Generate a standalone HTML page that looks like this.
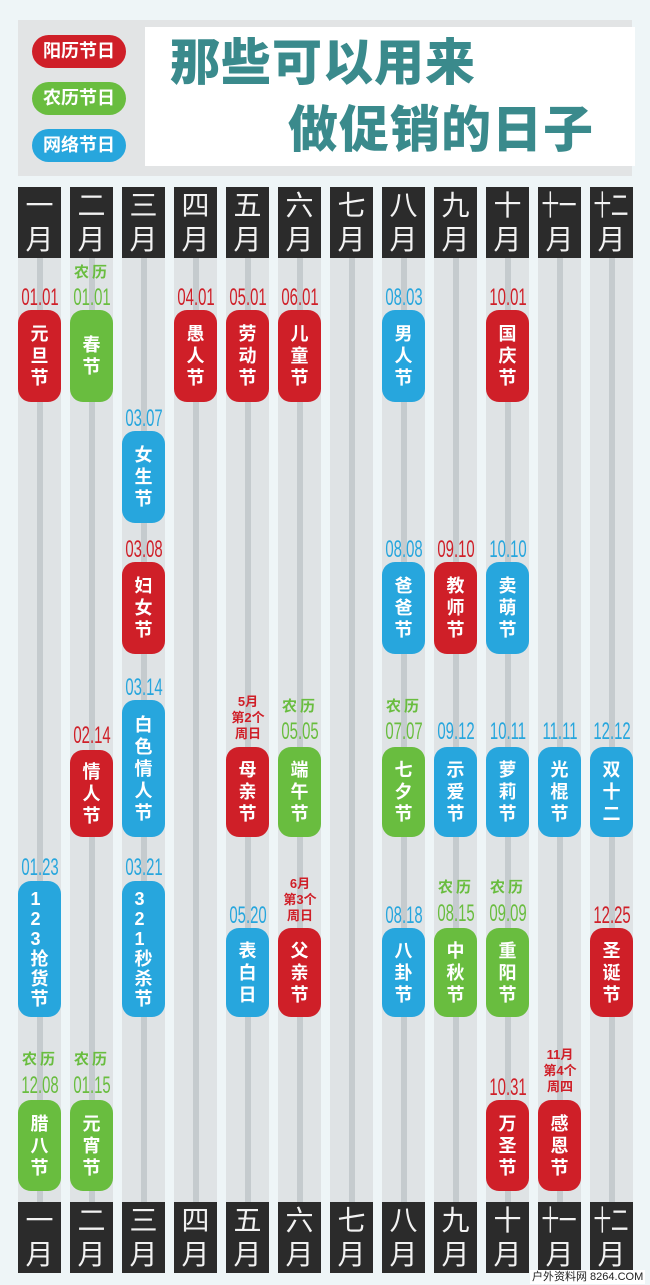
<!DOCTYPE html>
<html><head><meta charset="utf-8"><style>
*{margin:0;padding:0;box-sizing:border-box}
body{width:650px;height:1285px;background:#eef5f7;position:relative;overflow:hidden;font-family:"Liberation Sans","Noto Sans CJK SC",sans-serif}
.a{position:absolute}
.panel{left:18px;top:20px;width:614px;height:156px;background:#e2e4e5}
.tbox{left:145px;top:27px;width:490px;height:139px;background:#fff}
.t{color:#3a8a8c;font-weight:900;font-size:50px;letter-spacing:1px;white-space:nowrap;line-height:1}
.leg{left:32px;width:94px;height:33px;border-radius:17px;color:#fff;font-weight:bold;font-size:18px;text-align:center;line-height:33px}
.col{width:43px;top:258px;height:946px;background:#dfe3e5}
.col::after{content:"";position:absolute;left:19px;top:0;width:6px;height:100%;background:#c5cbce}
.hd{width:43px;height:71px;background:#2b2b2b;color:#f2f2f2;font-size:28px;line-height:34px;text-align:center;padding-top:2px;white-space:nowrap;overflow:hidden}
.hd span{display:inline-block;transform:scaleX(.62);margin:0 -12px}
.p{width:43px;border-radius:13px;color:#fff;font-weight:bold;font-size:18px;line-height:22px;display:flex;flex-direction:column;justify-content:center;align-items:center;z-index:2}
.r{background:#cf1f28}.g{background:#69bd3f}.b{background:#27a6dd}
.d{width:60px;margin-left:-8px;text-align:center;font-size:24px;line-height:24px;transform:scaleX(.62);z-index:2;font-family:"Liberation Sans Narrow","Liberation Sans",sans-serif}
.rc{color:#cf1f28}.gc{color:#69bd3f}.bc{color:#27a6dd}
.n{width:60px;margin-left:-8px;text-align:center;font-size:15px;font-weight:bold;line-height:16px;z-index:2;letter-spacing:3px}
.s{letter-spacing:0}
</style></head><body>
<div class="a panel"></div>
<div class="a tbox"></div>
<div class="a leg r" style="top:35px">阳历节日</div>
<div class="a leg g" style="top:82px">农历节日</div>
<div class="a leg b" style="top:129px">网络节日</div>
<div class="a t" style="left:170px;top:38px">那些可以用来</div>
<div class="a t" style="left:288px;top:105px">做促销的日子</div>

<div class="a col" style="left:18px"></div><div class="a col" style="left:70px"></div><div class="a col" style="left:122px"></div><div class="a col" style="left:174px"></div><div class="a col" style="left:226px"></div><div class="a col" style="left:278px"></div><div class="a col" style="left:330px"></div><div class="a col" style="left:382px"></div><div class="a col" style="left:434px"></div><div class="a col" style="left:486px"></div><div class="a col" style="left:538px"></div><div class="a col" style="left:590px"></div>

<div class="a hd" style="left:18px;top:187px">一<br>月</div><div class="a hd" style="left:70px;top:187px">二<br>月</div><div class="a hd" style="left:122px;top:187px">三<br>月</div><div class="a hd" style="left:174px;top:187px">四<br>月</div><div class="a hd" style="left:226px;top:187px">五<br>月</div><div class="a hd" style="left:278px;top:187px">六<br>月</div><div class="a hd" style="left:330px;top:187px">七<br>月</div><div class="a hd" style="left:382px;top:187px">八<br>月</div><div class="a hd" style="left:434px;top:187px">九<br>月</div><div class="a hd" style="left:486px;top:187px">十<br>月</div><div class="a hd" style="left:538px;top:187px"><span>十一</span><br>月</div><div class="a hd" style="left:590px;top:187px"><span>十二</span><br>月</div>

<div class="a hd" style="left:18px;top:1202px">一<br>月</div><div class="a hd" style="left:70px;top:1202px">二<br>月</div><div class="a hd" style="left:122px;top:1202px">三<br>月</div><div class="a hd" style="left:174px;top:1202px">四<br>月</div><div class="a hd" style="left:226px;top:1202px">五<br>月</div><div class="a hd" style="left:278px;top:1202px">六<br>月</div><div class="a hd" style="left:330px;top:1202px">七<br>月</div><div class="a hd" style="left:382px;top:1202px">八<br>月</div><div class="a hd" style="left:434px;top:1202px">九<br>月</div><div class="a hd" style="left:486px;top:1202px">十<br>月</div><div class="a hd" style="left:538px;top:1202px"><span>十一</span><br>月</div><div class="a hd" style="left:590px;top:1202px"><span>十二</span><br>月</div>

<!-- row 1 -->
<div class="a d rc" style="left:18px;top:286px">01.01</div><div class="a p r" style="left:18px;top:310px;height:92px">元<br>旦<br>节</div>
<div class="a n gc" style="left:70px;top:265px">农历</div><div class="a d gc" style="left:70px;top:286px">01.01</div><div class="a p g" style="left:70px;top:310px;height:92px">春<br>节</div>
<div class="a d rc" style="left:174px;top:286px">04.01</div><div class="a p r" style="left:174px;top:310px;height:92px">愚<br>人<br>节</div>
<div class="a d rc" style="left:226px;top:286px">05.01</div><div class="a p r" style="left:226px;top:310px;height:92px">劳<br>动<br>节</div>
<div class="a d rc" style="left:278px;top:286px">06.01</div><div class="a p r" style="left:278px;top:310px;height:92px">儿<br>童<br>节</div>
<div class="a d bc" style="left:382px;top:286px">08.03</div><div class="a p b" style="left:382px;top:310px;height:92px">男<br>人<br>节</div>
<div class="a d rc" style="left:486px;top:286px">10.01</div><div class="a p r" style="left:486px;top:310px;height:92px">国<br>庆<br>节</div>

<div class="a d bc" style="left:122px;top:407px">03.07</div><div class="a p b" style="left:122px;top:431px;height:92px">女<br>生<br>节</div>

<!-- row 3 -->
<div class="a d rc" style="left:122px;top:538px">03.08</div><div class="a p r" style="left:122px;top:562px;height:92px">妇<br>女<br>节</div>
<div class="a d bc" style="left:382px;top:538px">08.08</div><div class="a p b" style="left:382px;top:562px;height:92px">爸<br>爸<br>节</div>
<div class="a d rc" style="left:434px;top:538px">09.10</div><div class="a p r" style="left:434px;top:562px;height:92px">教<br>师<br>节</div>
<div class="a d bc" style="left:486px;top:538px">10.10</div><div class="a p b" style="left:486px;top:562px;height:92px">卖<br>萌<br>节</div>

<!-- row 4 -->
<div class="a d bc" style="left:122px;top:676px">03.14</div><div class="a p b" style="left:122px;top:700px;height:137px">白<br>色<br>情<br>人<br>节</div>
<div class="a d rc" style="left:70px;top:724px">02.14</div><div class="a p r" style="left:70px;top:750px;height:87px">情<br>人<br>节</div>
<div class="a n rc s" style="left:226px;top:694px;font-size:13px">5月<br>第2个<br>周日</div><div class="a p r" style="left:226px;top:747px;height:90px">母<br>亲<br>节</div>
<div class="a n gc" style="left:278px;top:699px">农历</div><div class="a d gc" style="left:278px;top:720px">05.05</div><div class="a p g" style="left:278px;top:747px;height:90px">端<br>午<br>节</div>
<div class="a n gc" style="left:382px;top:699px">农历</div><div class="a d gc" style="left:382px;top:720px">07.07</div><div class="a p g" style="left:382px;top:747px;height:90px">七<br>夕<br>节</div>
<div class="a d bc" style="left:434px;top:720px">09.12</div><div class="a p b" style="left:434px;top:747px;height:90px">示<br>爱<br>节</div>
<div class="a d bc" style="left:486px;top:720px">10.11</div><div class="a p b" style="left:486px;top:747px;height:90px">萝<br>莉<br>节</div>
<div class="a d bc" style="left:538px;top:720px">11.11</div><div class="a p b" style="left:538px;top:747px;height:90px">光<br>棍<br>节</div>
<div class="a d bc" style="left:590px;top:720px">12.12</div><div class="a p b" style="left:590px;top:747px;height:90px">双<br>十<br>二</div>

<!-- row 5 -->
<div class="a d bc" style="left:18px;top:856px">01.23</div><div class="a p b" style="left:18px;top:881px;height:136px;line-height:20px">1<br>2<br>3<br>抢<br>货<br>节</div>
<div class="a d bc" style="left:122px;top:856px">03.21</div><div class="a p b" style="left:122px;top:881px;height:136px;line-height:20px">3<br>2<br>1<br>秒<br>杀<br>节</div>
<div class="a d bc" style="left:226px;top:904px">05.20</div><div class="a p b" style="left:226px;top:928px;height:89px">表<br>白<br>日</div>
<div class="a n rc s" style="left:278px;top:876px;font-size:13px">6月<br>第3个<br>周日</div><div class="a p r" style="left:278px;top:928px;height:89px">父<br>亲<br>节</div>
<div class="a d bc" style="left:382px;top:904px">08.18</div><div class="a p b" style="left:382px;top:928px;height:89px">八<br>卦<br>节</div>
<div class="a n gc" style="left:434px;top:880px">农历</div><div class="a d gc" style="left:434px;top:902px">08.15</div><div class="a p g" style="left:434px;top:928px;height:89px">中<br>秋<br>节</div>
<div class="a n gc" style="left:486px;top:880px">农历</div><div class="a d gc" style="left:486px;top:902px">09.09</div><div class="a p g" style="left:486px;top:928px;height:89px">重<br>阳<br>节</div>
<div class="a d rc" style="left:590px;top:904px">12.25</div><div class="a p r" style="left:590px;top:928px;height:89px">圣<br>诞<br>节</div>

<!-- row 6 -->
<div class="a n gc" style="left:18px;top:1052px">农历</div><div class="a d gc" style="left:18px;top:1074px">12.08</div><div class="a p g" style="left:18px;top:1100px;height:91px">腊<br>八<br>节</div>
<div class="a n gc" style="left:70px;top:1052px">农历</div><div class="a d gc" style="left:70px;top:1074px">01.15</div><div class="a p g" style="left:70px;top:1100px;height:91px">元<br>宵<br>节</div>
<div class="a d rc" style="left:486px;top:1076px">10.31</div><div class="a p r" style="left:486px;top:1100px;height:91px">万<br>圣<br>节</div>
<div class="a n rc s" style="left:538px;top:1047px;font-size:13px">11月<br>第4个<br>周四</div><div class="a p r" style="left:538px;top:1100px;height:91px">感<br>恩<br>节</div>

<div class="a" style="left:530px;top:1270px;font-size:11px;color:#222;background:#fff;padding:0 2px;line-height:14px">户外资料网 8264.COM</div>
</body></html>
